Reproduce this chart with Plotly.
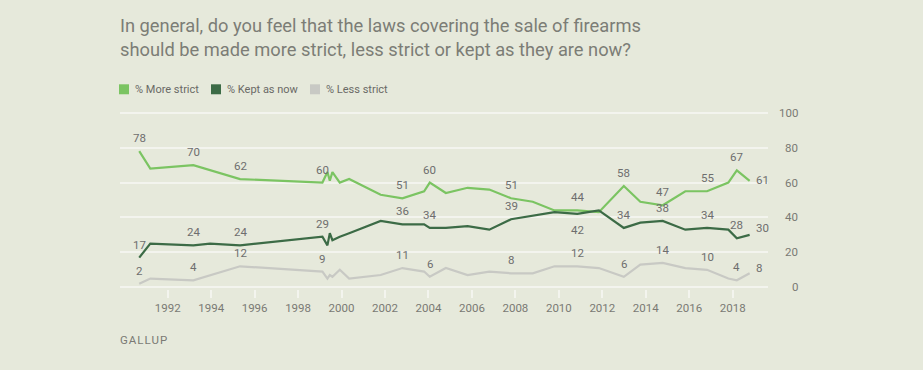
import plotly.graph_objects as go

# ---- data ----
years = [1990.69, 1991.2, 1993.18, 1993.95, 1995.33, 1999.12, 1999.35, 1999.46, 1999.58,
         1999.92, 2000.35, 2001.8, 2002.8, 2003.8, 2004.06, 2004.8, 2005.8, 2006.8,
         2007.8, 2008.8, 2009.8, 2010.85, 2011.84, 2012.99, 2013.75, 2014.78, 2015.82,
         2016.82, 2017.8, 2018.19, 2018.78]
more_strict = [78, 68, 70, 67, 62, 60, 66, 61, 66, 60, 62, 53, 51, 55, 60, 54, 57, 56,
               51, 49, 44, 44, 43, 58, 49, 47, 55, 55, 60, 67, 61]
kept_as_now = [17, 25, 24, 25, 24, 29, 24, 31, 27, 29, 31, 38, 36, 36, 34, 34, 35, 33,
               39, 41, 43, 42, 44, 34, 37, 38, 33, 34, 33, 28, 30]
less_strict = [2, 5, 4, 7, 12, 9, 5, 7, 6, 10, 5, 7, 11, 9, 6, 11, 7, 9,
               8, 8, 12, 12, 11, 6, 13, 14, 11, 10, 5, 4, 8]
labeled_idx = [0, 2, 4, 5, 12, 14, 18, 21, 23, 25, 27, 29, 30]

x_ticks = list(range(1992, 2019, 2))
x_ticktext = [str(v) for v in x_ticks]
y_ticks = [0, 20, 40, 60, 80, 100]
y_ticktext = [str(v) for v in y_ticks]

series_names = ["% More strict", "% Kept as now", "% Less strict"]
colors = ["#7bc462", "#3c6b46", "#c8c9c4"]

title_text = ("In general, do you feel that the laws covering the sale of firearms<br>"
              "should be made more strict, less strict or kept as they are now?")
source_text = "GALLUP"

# ---- layout geometry (pixels) ----
W, H = 923, 370
L, R_END = 120, 768
T_PX, B_PX = 110.75, 289.05
PW = R_END - L
PH = B_PX - T_PX

FONT = "Roboto"
BG = "#e6e9db"
GRID = "#f3f4ee"


def px_x(px):
    return (px - L) / PW


def px_y(py):
    return (B_PX - py) / PH


fig = go.Figure()

data_series = [more_strict, kept_as_now, less_strict]
draw_order = [2, 0, 1]
for i in draw_order:
    fig.add_trace(go.Scatter(
        x=years, y=data_series[i], mode="lines", name=series_names[i],
        line=dict(color=colors[i], width=2.2), showlegend=False, hoverinfo="skip",
    ))

annotations = []
# data labels
for s_i, vals in enumerate(data_series):
    for idx in labeled_idx:
        a = dict(x=years[idx], y=vals[idx], xref="x", yref="y", text=str(vals[idx]),
                 showarrow=False, font=dict(family=FONT, size=11.5, color="#6e6e6e"))
        if idx == len(years) - 1:
            a.update(xanchor="left", xshift=4, yshift=[1, 7, 5][s_i])
        elif s_i == 1 and idx == 21:
            a.update(yshift=-16)
        else:
            a.update(yshift=13)
        annotations.append(a)

# y tick labels (right aligned, right of plot)
for v, t in zip(y_ticks, y_ticktext):
    annotations.append(dict(x=px_x(800), y=v, xref="paper", yref="y",
                            xanchor="right", yanchor="middle", text=t, showarrow=False,
                            font=dict(family=FONT, size=11.5, color="#7a7a74")))

# title
annotations.append(dict(x=px_x(118), y=px_y(37), xref="paper", yref="paper",
                        xanchor="left", yanchor="middle", align="left",
                        text=title_text, showarrow=False,
                        font=dict(family=FONT, size=18.3, color="#7c7d76")))
# source
annotations.append(dict(x=px_x(118), y=px_y(340), xref="paper", yref="paper",
                        xanchor="left", yanchor="middle",
                        text='<span style="letter-spacing:1px">' + source_text + '</span>',
                        showarrow=False,
                        font=dict(family=FONT, size=11.5, color="#7a7a74")))

# legend (squares + text)
shapes = []
legend_sq_x = [119, 211, 310]
for i in range(3):
    x0 = legend_sq_x[i]
    shapes.append(dict(type="rect", xref="paper", yref="paper",
                       x0=px_x(x0), x1=px_x(x0 + 10), y0=px_y(94), y1=px_y(84),
                       fillcolor=colors[i], line=dict(width=0)))
    annotations.append(dict(x=px_x(x0 + 14), y=px_y(89), xref="paper", yref="paper",
                            xanchor="left", yanchor="middle", text=series_names[i],
                            showarrow=False,
                            font=dict(family=FONT, size=11, color="#6a6a66")))

fig.update_layout(
    width=W, height=H,
    margin=dict(l=L, r=W - R_END, t=T_PX, b=H - B_PX, pad=0),
    paper_bgcolor=BG, plot_bgcolor=BG,
    showlegend=False,
    annotations=annotations,
    shapes=shapes,
    xaxis=dict(range=[1989.805, 2019.625],
               tickvals=x_ticks, ticktext=x_ticktext,
               ticks="outside", ticklen=8, tickwidth=1.5, tickcolor="#f3f4ee",
               showgrid=False, zeroline=False, showline=False,
               tickfont=dict(family=FONT, size=11.5, color="#7a7a74")),
    yaxis=dict(range=[-1, 101], tickvals=y_ticks, showticklabels=False, ticks="",
               showgrid=True, gridcolor=GRID, gridwidth=1.6,
               zeroline=False, showline=False),
)

fig.write_html("out.html", config={"displayModeBar": False},
               post_script="document.body.style.margin='0';document.body.style.background='" + BG + "';")
